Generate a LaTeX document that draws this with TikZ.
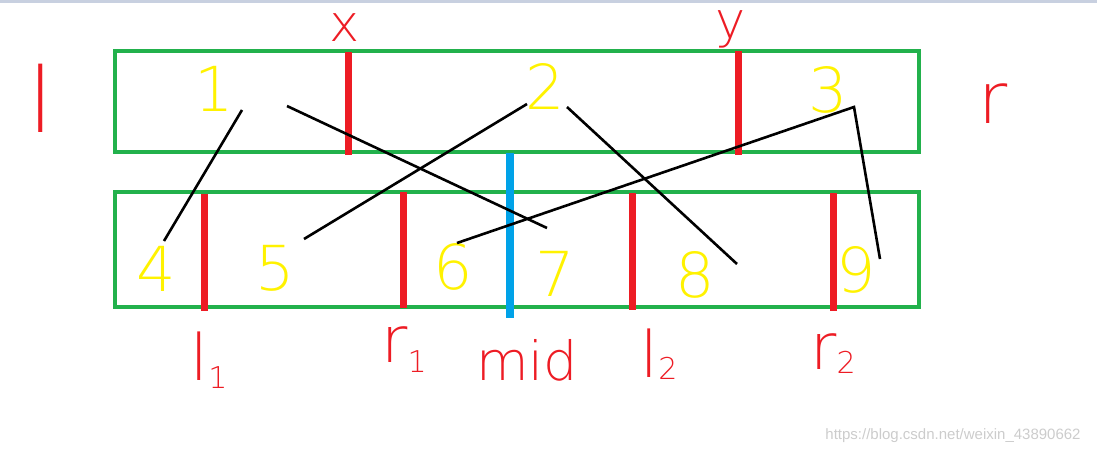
\documentclass[tikz,border=0pt]{standalone}
\usepackage{fontspec}
\newfontfamily\manofont{DejaVu Sans ExtraLight}
\newfontfamily\firmafont{Liberation Sans}
\usepackage{tikz}
\definecolor{giallo}{RGB}{255,242,0}
\definecolor{rosso}{RGB}{237,28,36}
\definecolor{verde}{RGB}{34,177,76}
\definecolor{blu}{RGB}{0,162,232}
\definecolor{grigiobarra}{RGB}{200,208,224}
\tikzstyle{scatolaverde} = [draw=verde,line width=4pt]
\tikzstyle{barrarossa} = [draw=rosso,line width=7pt]
\tikzstyle{barrablu} = [draw=blu,line width=8pt]
\tikzstyle{filonero} = [draw=black,line width=2.6pt]
\tikzstyle{cifragialla} = [text=giallo,font=\manofont\fontsize{62}{62}\selectfont]
\tikzstyle{etichettarossa} = [text=rosso,font=\manofont\fontsize{64}{64}\selectfont]
\newcommand{\pedice}[2]{\raisebox{-#1}{\fontsize{30}{30}\selectfont #2}}

\begin{document}
\begin{tikzpicture}[x=1pt,y=-1pt]
\tikzstyle{every node}=[inner sep=0pt,outer sep=0pt]

\useasboundingbox (0,0) rectangle (1097,455);
\fill[grigiobarra] (0,0) rectangle (1097,3);

% le due scatole
\draw[scatolaverde] (115,51) rectangle (919,152);
\draw[scatolaverde] (115,192) rectangle (919,307);

\draw[barrarossa] (348,52) -- (348,155);
\draw[barrarossa] (738,51) -- (738,155);
\draw[barrarossa] (204,194) -- (204,311);
\draw[barrarossa] (403,192) -- (403,308);
\draw[barrarossa] (632,193) -- (632,310);
\draw[barrarossa] (833,193) -- (833,311);
\draw[barrablu] (510,153) -- (510,318);

\node (n1) [cifragialla] at (214,89) {1};
\node (n2) [cifragialla] at (545,86) {2};
\node (n3) [cifragialla] at (828,90) {3};
\node (n4) [cifragialla] at (156,269) {4};
\node (n5) [cifragialla] at (275,268) {5};
\node (n6) [cifragialla] at (453,267) {6};
\node (n7) [cifragialla] at (555,274) {7};
\node (n8) [cifragialla] at (695,275) {8};
\node (n9) [cifragialla] at (856,270) {9};

\node (lblx) [etichettarossa,font=\manofont\fontsize{51}{51}\selectfont] at (345,28) {x};
\node (lbly) [etichettarossa,font=\manofont\fontsize{51}{51}\selectfont] at (731,29) {y};
\node (lbll) [etichettarossa,font=\manofont\fontsize{90}{90}\selectfont] at (41,98) {l};
\node (lblr) [etichettarossa,font=\manofont\fontsize{71}{71}\selectfont] at (993,104) {r};
\node (lbll1) [etichettarossa] at (209,360) {l\pedice{8pt}{1}};
\node (lblr1) [etichettarossa] at (404,350) {r\pedice{10pt}{1}};
\node (lblmid) [etichettarossa,font=\manofont\fontsize{54}{54}\selectfont] at (527,360) {mid};
\node (lbll2) [etichettarossa] at (659,354) {l\pedice{2pt}{2}};
\node (lblr2) [etichettarossa] at (833,354) {r\pedice{4pt}{2}};

\node (firma) [text=black!20,font=\firmafont\fontsize{15}{15}\selectfont] at (953,436) {https://blog.csdn.net/weixin\_43890662};

% estremi dei fili
\coordinate (a1) at ([xshift=28pt,yshift=-21pt]n1.center);
\coordinate (b1) at ([xshift=73pt,yshift=-17pt]n1.center);
\coordinate (a2) at ([xshift=-18pt,yshift=-18pt]n2.center);
\coordinate (b2) at ([xshift=22pt,yshift=-21pt]n2.center);
\coordinate (a3) at ([xshift=26pt,yshift=-17pt]n3.center);
\coordinate (e4) at ([xshift=8pt,yshift=28pt]n4.center);
\coordinate (e5) at ([xshift=29pt,yshift=29pt]n5.center);
\coordinate (e6) at ([xshift=4pt,yshift=24pt]n6.center);
\coordinate (e7) at ([xshift=-8pt,yshift=46pt]n7.center);
\coordinate (e8) at ([xshift=42pt,yshift=11pt]n8.center);
\coordinate (e9) at ([xshift=24pt,yshift=11pt]n9.center);

\draw[filonero] (a1) -- (e4);
\draw[filonero] (b1) -- (e7);
\draw[filonero] (a2) -- (e5);
\draw[filonero] (b2) -- (e8);
\draw[filonero] (e6) -- (a3) -- (e9);
\end{tikzpicture}
\end{document}
